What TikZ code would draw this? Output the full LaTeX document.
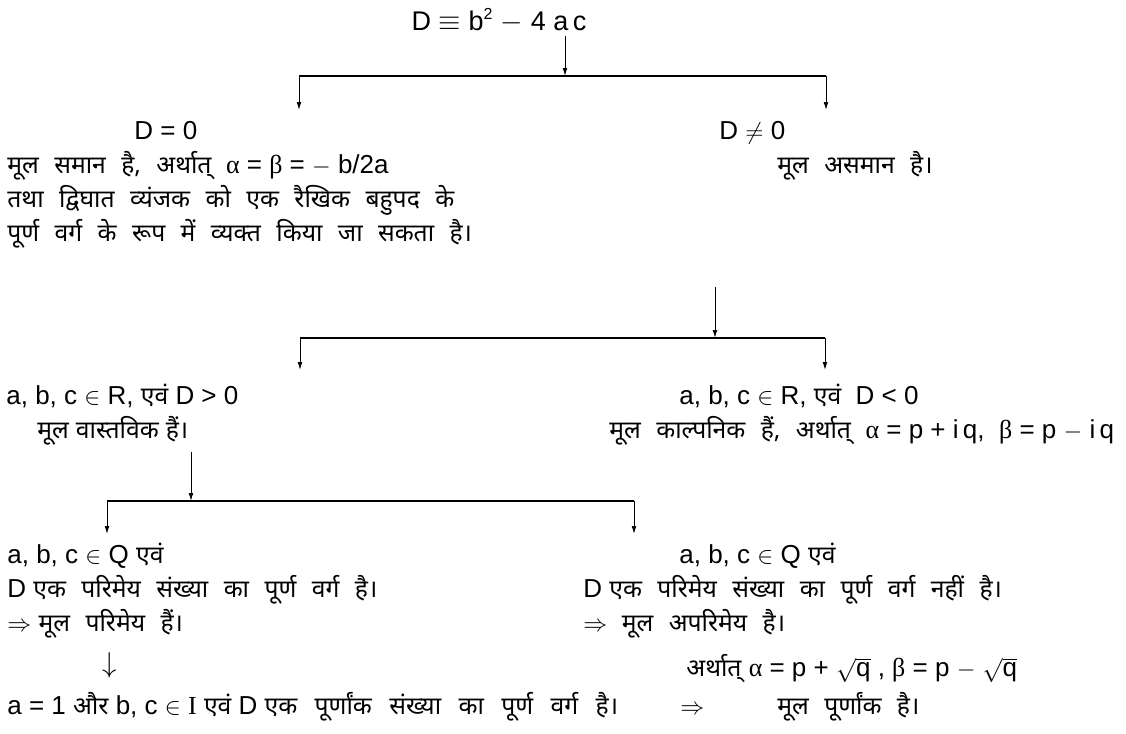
\documentclass[tikz,border=0pt]{standalone}
\usepackage{fontspec}
\setmainfont{Liberation Sans}
\newfontfamily\dev[Script=Devanagari, Scale=0.95, WordSpace=2.4]{Noto Sans}
\newfontfamily\devw[Script=Devanagari, Scale=0.951, WordSpace=2.7]{Noto Sans}
\newfontfamily\grk{Liberation Serif}
\newcommand{\al}{{\grk α}}
\newcommand{\be}{{\grk β}}
\usetikzlibrary{arrows.meta}

\begin{document}
\begin{tikzpicture}[x=0.5pt, y=-0.5pt,
  txt/.style={anchor=base west, inner sep=0pt, text height=10pt, text depth=3pt, font=\fontsize{13}{16}\selectfont},
  arr/.style={-{Latex[length=4pt,width=2.4pt]}, line width=0.5pt},
  bar/.style={line width=0.7pt}
]
  \useasboundingbox (0,0) rectangle (1126,734);

  % top
  \node[txt, anchor=base, font=\fontsize{13.5}{18}\selectfont] (disc) at (499,30) {D $\equiv$ b\textsuperscript{\footnotesize 2} $-$ 4 a\,c};

  % first split
  \node[txt] (zero) at (134,139) {D = 0};
  \node[txt] (nonzero) at (719,139) {D $\neq$ 0};
  \node[txt] (eqA) at (7,173) {{\dev मूल समान है, अर्थात्}\ \ \al\ = \be\ = $-$ b/2a};
  \node[txt] (eqB) at (7,207) {\dev तथा द्विघात व्यंजक को एक रैखिक बहुपद के};
  \node[txt] (eqC) at (7,241) {\dev पूर्ण वर्ग के रूप में व्यक्त किया जा सकता है।};
  \node[txt] (uneq) at (777,173) {\dev मूल असमान है।};

  % second split
  \node[txt] (pos) at (6,404) {a, b, c $\in$ R, {\dev एवं} D > 0};
  \node[txt] (real) at (37,438) {\dev मूल\hspace{3.5pt}वास्तविक\hspace{3.5pt}हैं।};
  \node[txt] (neg) at (679,404) {a, b, c $\in$ R, {\dev एवं}\ \ D < 0};
  \node[txt] (imag) at (609,438) {{\dev मूल काल्पनिक हैं, अर्थात्}\ \ \al\ = p + i\,q,\ \ \be\ = p $-$ i\,q};

  % third split
  \node[txt] (ratA) at (7,563) {a, b, c $\in$ Q {\dev एवं}};
  \node[txt] (ratB) at (7,597) {D {\dev एक परिमेय संख्या का पूर्ण वर्ग है।}};
  \node[txt] (ratC) at (7,631) {$\Rightarrow$ {\dev मूल परिमेय हैं।}};
  \node[txt, anchor=base, font=\fontsize{15}{18}\selectfont] (down) at (110,672) {$\downarrow$};
  \node[txt] (intA) at (7,714) {a = 1 {\dev और} b, c $\in$ {\grk I} {\dev एवं} D {\devw एक पूर्णांक संख्या का पूर्ण वर्ग है।}};
  \node[txt] (intB) at (680,714) {$\Rightarrow$};
  \node[txt] (intC) at (777,714) {\dev मूल पूर्णांक है।};
  \node[txt] (irrA) at (679,563) {a, b, c $\in$ Q {\dev एवं}};
  \node[txt] (irrB) at (583,597) {D {\dev एक परिमेय संख्या का पूर्ण वर्ग नहीं है।}};
  \node[txt] (irrC) at (583,631) {$\Rightarrow$\ \ {\dev मूल अपरिमेय है।}};
  \node[txt] (irrD) at (686,676) {{\dev अर्थात्} \al\ = p + $\sqrt{\mbox{q}}$ , \be\ = p $-$ $\sqrt{\mbox{q}}$};

  % bars and arrows
  \coordinate (j1) at (565,76);
  \coordinate (l1) at (299,76);
  \coordinate (r1) at (826,76);
  \coordinate (s2) at (715,287);
  \coordinate (j2) at (715,338);
  \coordinate (l2) at (300,338);
  \coordinate (r2) at (825,338);
  \coordinate (s3) at (191,452);
  \coordinate (j3) at (191,501);
  \coordinate (l3) at (107,501);
  \coordinate (r3) at (634,501);

  \draw[arr] (disc.south -| j1) -- (j1);
  \draw[bar] (l1) -- (r1);
  \draw[arr] (l1) -- ++(0,34);
  \draw[arr] (r1) -- ++(0,34);

  \draw[arr] (s2) -- (j2);
  \draw[bar] (l2) -- (r2);
  \draw[arr] (l2) -- ++(0,32);
  \draw[arr] (r2) -- ++(0,32);

  \draw[arr] (s3) -- (j3);
  \draw[bar] (l3) -- (r3);
  \draw[arr] (l3) -- ++(0,33);
  \draw[arr] (r3) -- ++(0,33);
\end{tikzpicture}
\end{document}
